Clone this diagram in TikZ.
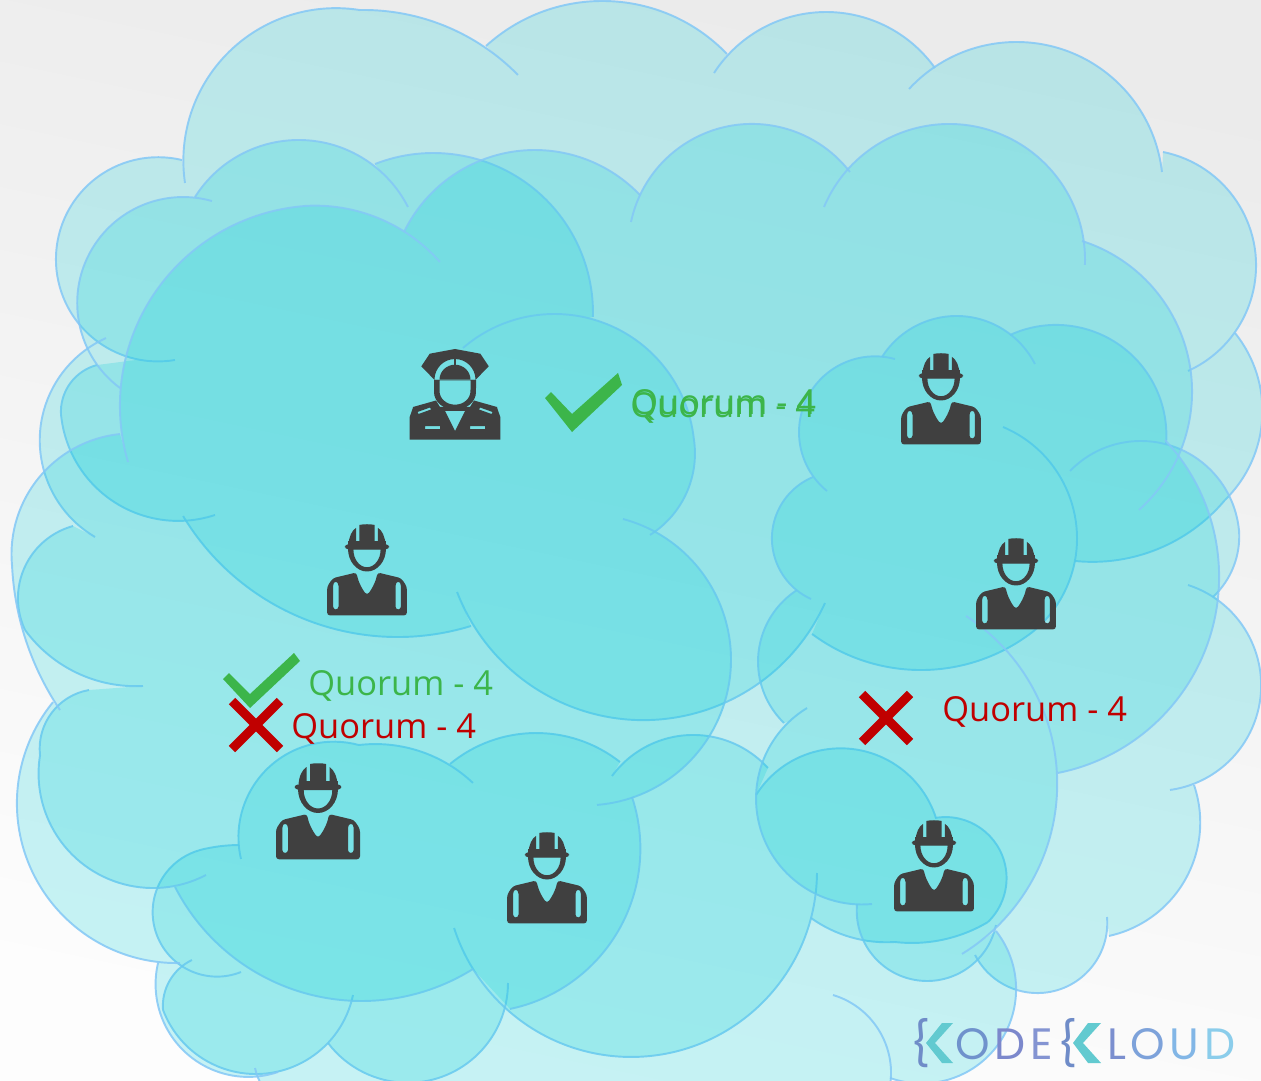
\documentclass[tikz,border=0pt]{standalone}
\usepackage{fontspec}
\setmainfont{Open Sans}
\newfontfamily\logofont{Poppins}
\definecolor{bgtop}{HTML}{EBEBEB}
\definecolor{bgbot}{HTML}{FDFDFD}
\definecolor{cloudfill}{RGB}{10,208,216}
\definecolor{cloudedge}{HTML}{84C8F6}
\definecolor{icondark}{HTML}{404040}
\definecolor{qgreen}{HTML}{3CB54A}
\definecolor{qred}{HTML}{C00000}
\definecolor{logobrace}{HTML}{6F8CC8}
\definecolor{logoteal}{HTML}{62CAD0}
\definecolor{logoa}{HTML}{6F92CC}
\definecolor{logob}{HTML}{7C88CC}
\definecolor{logoc}{HTML}{8494D2}
\definecolor{logod}{HTML}{7B8FCF}
\definecolor{logoe}{HTML}{7DA2DA}
\definecolor{logof}{HTML}{82B6E6}
\definecolor{logog}{HTML}{8BCDEB}
\newcommand\logogap{\kern2.6pt\relax}
\tikzset{
  cloudbody/.style={fill=cloudfill,fill opacity=0.225},
  cloudline/.style={draw=cloudedge,line width=1.1pt,draw opacity=0.85},
  iconfill/.style={fill=icondark},
  qtext/.style={anchor=base west,inner sep=0pt,font=\fontsize{19.6}{20}\selectfont},
  logotext/.style={anchor=base west,inner sep=0pt,font=\logofont\fontsize{25}{26}\selectfont},
  bracetext/.style={inner sep=0pt,text=logobrace,font=\logofont\fontsize{25}{26}\selectfont},
  chevron/.style={fill=logoteal},
  pics/worker/.style={code={
    \fill[iconfill] (-8,-22) -- (-8,-1) .. controls (-4,0) and (4,0) .. (8,-1) -- (8,-22) -- cycle;
    \fill[iconfill] (11.5,-22) -- (11.5,-4) .. controls (16,-7) and (19,-13) .. (19.5,-22) -- cycle;
    \fill[iconfill] (-11.5,-22) -- (-11.5,-4) .. controls (-16,-7) and (-19,-13) .. (-19.5,-22) -- cycle;
    \fill[iconfill] (-19.5,-17.5) rectangle (19.5,-23);
    \fill[iconfill,rounded corners=0.06cm] (-23.3,-21.5) rectangle (23.3,-26.5);
    \fill[iconfill,even odd rule]
      (-20,-26) arc[start angle=180,end angle=360,x radius=0.4cm,y radius=0.48cm] -- cycle
      (-14.3,-27) arc[start angle=180,end angle=360,x radius=0.286cm,y radius=0.37cm] -- cycle;
    \fill[iconfill,even odd rule,rounded corners=0.06cm]
      (-11,-51) .. controls (-9,-62) and (-4,-70) .. (0,-75) .. controls (4,-70) and (9,-62) .. (11,-51)
      -- (36,-57) -- (42,-66) -- (42,-96.3) -- (-42,-96.3) -- (-42,-66) -- (-36,-57) -- cycle
      (-35.7,-62) -- (-33,-60) -- (-30,-62) -- (-30,-90) -- (-35.7,-90) -- cycle
      (35.7,-62) -- (33,-60) -- (30,-62) -- (30,-90) -- (35.7,-90) -- cycle;
  }},
  pics/officer/.style={code={
    \fill[iconfill,even odd rule]
      (0,0) -- (25.3,-4.7) -- (33.7,-17.3) -- (20.7,-30.7) -- (-20.7,-30.7) -- (-33.7,-17.3) -- (-25.3,-4.7) -- cycle
      (-20.5,-30.7) arc[start angle=180,end angle=0,x radius=0.41cm,y radius=0.414cm] -- cycle
      (-15.5,-30.7) arc[start angle=180,end angle=0,x radius=0.31cm,y radius=0.3cm] -- cycle;
    \fill[iconfill] (-1,-9) rectangle (1,-19);
    \fill[iconfill,even odd rule]
      (-21,-31) -- (-21,-43) arc[start angle=180,end angle=360,x radius=0.42cm,y radius=0.354cm] -- (21,-31) -- cycle
      (-15.5,-31.5) -- (-15.5,-42) arc[start angle=180,end angle=360,x radius=0.31cm,y radius=0.274cm] -- (15.5,-31.5) -- cycle;
    \fill[iconfill,even odd rule]
      (-45.3,-90.7) -- (-45.3,-68) -- (-42.5,-60) -- (-42,-58) -- (-19,-51.5) -- (-15,-58) -- (15,-58) -- (19,-51.5)
      -- (42,-58) -- (42.5,-60) -- (45.3,-68) -- (45.3,-90.7) -- cycle
      (-10,-62) -- (10,-62) -- (0,-82) -- cycle
      (-37.5,-63) -- (-25,-58.5) -- (-24,-60.5) -- (-36.5,-65) -- cycle
      (37.5,-63) -- (25,-58.5) -- (24,-60.5) -- (36.5,-65) -- cycle
      (-30,-77) rectangle (-15,-80)
      (30,-77) rectangle (15,-80);
  }},
  pics/xmark/.style={code={
    \draw[qred,line width=5.2pt] (-24,-24) -- (24,24);
    \draw[qred,line width=5.2pt] (-24,24) -- (24,-24);
  }}
}
% three points of a lobe, in reference pixels (y downwards) -> circle through them
\newcommand\lobesetup{%
  \pgfmathsetmacro\lbx{(\xb-\xa)/100}\pgfmathsetmacro\lby{(\ya-\yb)/100}%
  \pgfmathsetmacro\lcx{(\xc-\xa)/100}\pgfmathsetmacro\lcy{(\ya-\yc)/100}%
  \pgfmathsetmacro\ldet{2*(\lbx*\lcy-\lby*\lcx)}%
  \pgfmathsetmacro\lbq{\lbx*\lbx+\lby*\lby}%
  \pgfmathsetmacro\lcq{\lcx*\lcx+\lcy*\lcy}%
  \pgfmathsetmacro\lux{(\lcy*\lbq-\lby*\lcq)/\ldet}%
  \pgfmathsetmacro\luy{(\lbx*\lcq-\lcx*\lbq)/\ldet}%
  \pgfmathsetmacro\lrad{2*veclen(\lux,\luy)}%
  \pgfmathsetmacro\lang{atan2(-\luy,-\lux)}%
  \pgfmathsetmacro\lend{atan2(\lcy-\luy,\lcx-\lux)}%
  \pgfmathsetmacro\lend{\ldet<0 ? (\lend>\lang ? \lend-360 : \lend) : (\lend<\lang ? \lend+360 : \lend)}%
  \pgfmathsetmacro\lya{1080-\ya}%
}
\newcommand\cloudshape[3]{% start x, start y (pixels), list of lobes
  \gdef\cloudpath{}%
  \foreach \xa/\ya/\xb/\yb/\xc/\yc in {#3} {%
    \lobesetup
    \xdef\cloudpath{\cloudpath -- (\xa,\lya) arc[start angle=\lang,end angle=\lend,radius=\lrad cm]}%
  }%
  \fill[cloudbody] (#1,{1080-#2}) \cloudpath -- cycle;
  \foreach \xa/\ya/\xb/\yb/\xc/\yc in {#3} {%
    \lobesetup
    \draw[cloudline] (\xa,\lya) arc[start angle=\lang,end angle=\lend,radius=\lrad cm];
  }%
}
\begin{document}
\begin{tikzpicture}[x=0.02cm,y=0.02cm]
\path[use as bounding box] (0,0) rectangle (1261,1080);
\begin{scope}
\clip (0,0) rectangle (1261,1080);
\shade[top color=bgtop,bottom color=bgbot,shading angle=-12] (0,0) rectangle (1261,1080);
% cloud: upper band
\cloudshape{600}{300}{
  175/360/56/255/182/160,
  185/183/192/110/360/10,
  360/10/440/24/518/75,
  486/46/600/1/727/54,
  714/73/825/12/935/68,
  909/89/1017/42/1162/172,
  1163/152/1256/270/1188/371,
  1235/333/1261/430/1225/500,
  1225/500/1150/552/1075/561,
  1003/427/1077/540/1035/630,
  1035/630/925/670/812/634,
  825/603/650/720/457/592,
  471/626/395/637/183/516,
  215/515/71/452/61/415,
  61/415/69/385/97/365}
% cloud: lower left
\cloudshape{450}{900}{
  241/859/240/820/359/745,
  359/745/430/755/473/783,
  450/764/535/733/620/762,
  612/776/690/735/768/768,
  756/795/829/749/936/818,
  935/818/1005/892/988/922,
  988/922/950/938/895/942,
  895/942/850/937/811/918,
  817/873/630/1057/454/928,
  508/983/420/1082/328/1043,
  353/995/253/1074/163/1010,
  163/1010/170/980/192/960,
  241/972/153/905/200/850,
  200/850/222/846/239/845}
% cloud: left partition
\cloudshape{350}{550}{
  120/388/78/290/212/201,
  195/197/298/140/408/207,
  375/164/433/153/593/317,
  463/348/555/314/694/440,
  694/440/683/500/650/535,
  623/519/731/660/597/805,
  632/797/640/860/510/1009,
  473/969/363/1001/175/887,
  206/875/155/888/40/755,
  40/755/47/720/89/690,
  143/686/73/671/25/630,
  25/630/18/595/73/526,
  95/537/40/448/106/338}
% cloud: right partition
\cloudshape{1000}{650}{
  784/723/758/660/797/590,
  811/599/772/535/813/477,
  827/491/799/431/895/359,
  882/357/955/316/1035/364,
  1010/335/1052/325/1166/445,
  1070/471/1139/441/1239/530,
  1239/530/1233/568/1213/597,
  1188/585/1261/680/1170/790,
  1194/785/1200/830/1109/936,
  1107/917/1041/993/975/955,
  996/925/927/981/857/904,
  872/904/756/800/807/708}
% cloud: largest
\cloudshape{600}{600}{
  180/963/17/810/53/702,
  60/710/20/620/12/565,
  12/565/30/490/120/434,
  128/462/120/400/304/206,
  304/206/405/232/440/262,
  404/232/535/150/640/195,
  631/222/748/124/850/172,
  824/207/948/124/1085/265,
  1082/241/1192/395/1139/510,
  1165/440/1219/570/1058/773,
  966/616/1057/775/962/954,
  996/931/1016/985/890/1078,
  833/995/890/1060/888/1095,
  275/1100/260/1082/255/1068,
  278/1072/165/1025/158/963}
\end{scope}
% people
\pic (officer) at (455,731) {officer};
\pic[scale=0.95] (w1) at (367,556) {worker};
\pic[scale=0.95] (w2) at (941,727) {worker};
\pic[scale=0.95] (w3) at (1016,542) {worker};
\pic[scale=1] (w4) at (318,317) {worker};
\pic[scale=0.95] (w5) at (547,248) {worker};
\pic[scale=0.95] (w6) at (934,260) {worker};
% checks
\fill[qgreen] (545,682) -- (551,688) -- (572,666) -- (618,707) -- (622,695) -- (572,648) -- cycle;
\fill[qgreen] (223,401) -- (229,407) -- (250,386) -- (294,427) -- (300,419) -- (250,372) -- cycle;
% crosses
\pic (x1) at (256,355) {xmark};
\pic (x2) at (886,362) {xmark};
% labels
\node[qtext,text=qgreen] (q1a) at (630,663) {Quorum - 4};
\node[qtext,text=qgreen] (q1b) at (631,665) {Quorum - 4};
\node[qtext,text=qgreen] (q2) at (308,385) {Quorum - 4};
\node[qtext,text=qred] (q3) at (291,342) {Quorum - 4};
\node[qtext,text=qred] (q4) at (942,359) {Quorum - 4};
% logo
\node[bracetext] (b1) at (921,37) {\{};
\fill[chevron] (953,57) -- (942,57) -- (926,37) -- (942,17) -- (953,17) -- (935,37) -- cycle;
\node[logotext] (l1) at (955,21) {\textcolor{logoa}{O}\logogap\textcolor{logob}{D}\logogap\textcolor{logoc}{E}};
\node[bracetext] (b2) at (1068,37) {\{};
\fill[chevron] (1101,57) -- (1088,57) -- (1073,37) -- (1088,17) -- (1101,17) -- (1083,37) -- cycle;
\node[logotext] (l2) at (1107,21) {\textcolor{logod}{L}\logogap\textcolor{logoe}{O}\logogap\textcolor{logof}{U}\logogap\textcolor{logog}{D}};
\end{tikzpicture}
\end{document}
